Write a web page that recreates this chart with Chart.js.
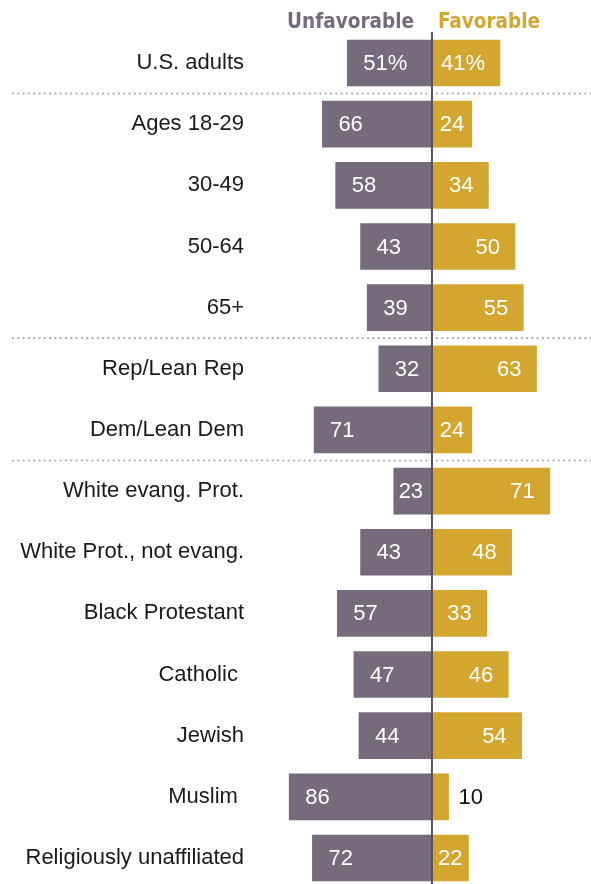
<!DOCTYPE html>
<html>
<head>
<meta charset="utf-8">
<script src="https://cdn.jsdelivr.net/npm/chart.js@4.4.1/dist/chart.umd.min.js"></script>
<style>
  html, body { margin: 0; padding: 0; background: #fff; overflow: hidden; }
  #wrap { width: 591px; height: 884px; }
</style>
</head>
<body>
<div id="wrap"><canvas id="chart" width="591" height="884"></canvas></div>
<script>
//////////////// DATA
const categories = [
  'U.S. adults',
  'Ages 18-29',
  '30-49',
  '50-64',
  '65+',
  'Rep/Lean Rep',
  'Dem/Lean Dem',
  'White evang. Prot.',
  'White Prot., not evang.',
  'Black Protestant',
  'Catholic ',
  'Jewish',
  'Muslim ',
  'Religiously unaffiliated',
];
const unfavorable = [51, 66, 58, 43, 39, 32, 71, 23, 43, 57, 47, 44, 86, 72];
const favorable   = [41, 24, 34, 50, 55, 63, 24, 71, 48, 33, 46, 54, 10, 22];
const seriesNames = ['Unfavorable', 'Favorable'];
const separatorsAfter = [0, 4, 6]; // dotted line below these rows

const purple = '#766a7d';
const gold = '#d3a62f';
const labelFont = '22px "Liberation Sans", Arial, sans-serif';

//////////////// PLUGINS
const separators = {
  id: 'separators',
  beforeDatasetsDraw(chart) {
    const ctx = chart.ctx;
    const y = chart.scales.y;
    ctx.save();
    ctx.fillStyle = '#a9a9a9';
    separatorsAfter.forEach(i => {
      const yy = (y.getPixelForValue(i) + y.getPixelForValue(i + 1)) / 2;
      for (let x = 13; x < chart.width; x += 5.3) {
        ctx.beginPath();
        ctx.arc(x, yy, 1.1, 0, Math.PI * 2);
        ctx.fill();
      }
    });
    ctx.restore();
  }
};

const valueLabels = {
  id: 'valueLabels',
  afterDatasetsDraw(chart) {
    const ctx = chart.ctx;
    ctx.save();
    ctx.font = labelFont;
    ctx.textBaseline = 'middle';
    chart.data.datasets.forEach((ds, dsIndex) => {
      const meta = chart.getDatasetMeta(dsIndex);
      meta.data.forEach((bar, i) => {
        let txt = String(Math.abs(ds.data[i]));
        if (i === 0) txt += '%';
        const w = ctx.measureText(txt).width;
        const len = Math.abs(bar.x - bar.base);
        const y = bar.y + 1;
        if (dsIndex === 0) {
          ctx.fillStyle = '#fff';
          if (len < w + 22) {
            ctx.textAlign = 'center';
            ctx.fillText(txt, (bar.x + bar.base) / 2 - 2, y);
          } else {
            ctx.textAlign = 'left';
            ctx.fillText(txt, bar.x + 16, y);
          }
        } else {
          if (len < w + 8) {
            ctx.fillStyle = '#111';
            ctx.textAlign = 'left';
            ctx.fillText(txt, bar.x + 10, y);
          } else if (len < w + 22) {
            ctx.fillStyle = '#fff';
            ctx.textAlign = 'center';
            ctx.fillText(txt, (bar.x + bar.base) / 2, y);
          } else {
            ctx.fillStyle = '#fff';
            ctx.textAlign = 'right';
            ctx.fillText(txt, bar.x - 15, y);
          }
        }
      });
    });
    ctx.restore();
  }
};

const centerAndHeader = {
  id: 'centerAndHeader',
  afterDraw(chart) {
    const ctx = chart.ctx;
    const cx = chart.scales.x.getPixelForValue(0);
    ctx.save();
    ctx.strokeStyle = '#5a5062';
    ctx.lineWidth = 2;
    ctx.beginPath();
    ctx.moveTo(cx, 32);
    ctx.lineTo(cx, chart.height);
    ctx.stroke();

    ctx.font = 'bold 20.5px "Liberation Sans Narrow", "DejaVu Sans Condensed", Arial, sans-serif';
    ctx.textBaseline = 'alphabetic';
    ctx.fillStyle = purple;
    ctx.textAlign = 'right';
    ctx.fillText(seriesNames[0], cx - 18, 28);
    ctx.fillStyle = gold;
    ctx.textAlign = 'left';
    ctx.fillText(seriesNames[1], cx + 6, 28);
    ctx.restore();
  }
};

//////////////// CHART
const chart = new Chart(document.getElementById('chart').getContext('2d'), {
  type: 'bar',
  data: {
    labels: categories,
    datasets: [
      {
        label: seriesNames[0],
        data: unfavorable.map(v => -v),
        backgroundColor: purple,
        barThickness: 46,
        clip: false,
      },
      {
        label: seriesNames[1],
        data: favorable,
        backgroundColor: gold,
        barThickness: 46,
        clip: false,
      },
    ],
  },
  options: {
    indexAxis: 'y',
    responsive: false,
    animation: false,
    devicePixelRatio: 1,
    layout: { padding: { top: 63, bottom: 26, left: 0, right: 0 } },
    plugins: {
      legend: { display: false },
      tooltip: { enabled: false },
    },
    scales: {
      x: {
        stacked: true,
        min: -109.6,
        max: 95.8,
        display: false,
      },
      y: {
        stacked: true,
        offset: false,
        grid: { display: false, drawTicks: false },
        border: { display: false },
        ticks: {
          color: '#1a1a1a',
          font: { family: '"Liberation Sans", Arial, sans-serif', size: 22 },
          padding: 6,
          autoSkip: false,
        },
        afterFit(scale) { scale.width = 250; },
      },
    },
  },
  plugins: [separators, valueLabels, centerAndHeader],
});
</script>
</body>
</html>
